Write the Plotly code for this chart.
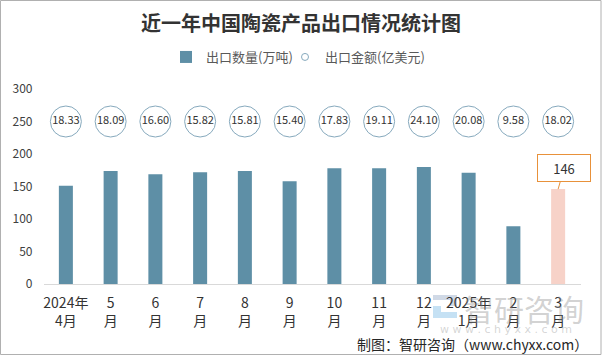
import plotly.graph_objects as go

# ---- data ----
months = ["2024年<br>4月", "5<br>月", "6<br>月", "7<br>月", "8<br>月", "9<br>月",
          "10<br>月", "11<br>月", "12<br>月", "2025年<br>1月", "2<br>月", "3<br>月"]
export_volume = [151, 174, 169, 172, 174, 158, 178, 178, 180, 171, 89, 146]   # 万吨
export_value = [18.33, 18.09, 16.60, 15.82, 15.81, 15.40, 17.83, 19.11, 24.10, 20.08, 9.58, 18.02]  # 亿美元

W, H = 602, 356
FONT = "Noto Sans CJK SC"
bar_colors = ["#5e8fa6"] * (len(months) - 1) + ["#f7d2c8"]
bubble_row = [250] * len(months)  # row of value bubbles drawn at y=250

fig = go.Figure()
fig.add_trace(go.Bar(
    x=months, y=export_volume, name="出口数量(万吨)", legend="legend",
    marker=dict(color=bar_colors, line=dict(width=0)),
))
fig.add_trace(go.Scatter(
    x=months, y=bubble_row, mode="markers+text", name="出口金额(亿美元)",
    text=[f"{v:.2f}" for v in export_value], textposition="middle center",
    textfont=dict(family=FONT, size=11, color="#333333"),
    marker=dict(symbol="circle", size=31, color="white",
                line=dict(color="#86a9bd", width=1)),
    showlegend=False, legendgroup="value",
))
# legend proxy for the bubble series (small hollow circle)
fig.add_trace(go.Scatter(
    x=[None], y=[None], mode="markers", name="出口金额(亿美元)", legendgroup="value",
    legend="legend2",
    marker=dict(symbol="circle", size=7, color="white", line=dict(color="#86a9bd", width=1)),
))

# callout for last bar
fig.add_annotation(
    x=months[-1], y=export_volume[-1], xref="x", yref="y",
    text=str(export_volume[-1]), showarrow=True, arrowhead=0, arrowwidth=1,
    arrowcolor="#e8913a", ax=6, ay=-21,
    bordercolor="#e8913a", borderwidth=1, borderpad=1, bgcolor="white",
    width=50, height=24, font=dict(family=FONT, size=13, color="#333333"),
)

# watermark
fig.add_annotation(x=524 / W, y=1 - 308 / H, xref="paper", yref="paper",
                   xanchor="center", yanchor="middle",
                   text="智研咨询", showarrow=False,
                   font=dict(family=FONT, size=30, color="rgba(140,140,140,0.40)"))
fig.add_annotation(x=506 / W, y=1 - 329 / H, xref="paper", yref="paper",
                   xanchor="center", yanchor="middle",
                   text="w w w . c h y x x . c o m", showarrow=False,
                   font=dict(family="DejaVu Sans", size=11, color="rgba(150,150,150,0.40)"))
logo_blocks = [  # (x0, y0, x1, y1, colour) in pixels
    (433, 295, 457, 300, "rgba(170,185,210,0.55)"),
    (450, 300, 457, 306, "rgba(170,185,210,0.55)"),
    (433, 306, 441, 312, "rgba(150,200,235,0.55)"),
    (433, 312, 457, 318, "rgba(150,200,235,0.55)"),
]
for x0, y0, x1, y1, c in logo_blocks:
    fig.add_shape(type="rect", xref="paper", yref="paper", x0=x0 / W, x1=x1 / W,
                  y0=1 - y1 / H, y1=1 - y0 / H, line=dict(width=0), fillcolor=c, layer="below")

# source footer
fig.add_annotation(x=590 / W, y=1 - 344 / H, xref="paper", yref="paper",
                   xanchor="right", yanchor="middle",
                   text="制图：智研咨询（www.chyxx.com）", showarrow=False,
                   font=dict(family=FONT, size=14, color="#262626"))

# outer frame
fig.add_shape(type="rect", xref="paper", yref="paper", x0=0.5 / W, x1=1 - 1 / W,
              y0=1 - 354.5 / H, y1=1 - 0.5 / H, line=dict(color="#b0b0b0", width=1))

legend_style = dict(orientation="h", xanchor="left", y=1 - 57 / H, yanchor="middle",
                    font=dict(family=FONT, size=13, color="#595959"), itemsizing="trace",
                    bgcolor="rgba(0,0,0,0)", itemwidth=30)

fig.update_layout(
    width=W, height=H, margin=dict(l=0, r=0, t=0, b=0, autoexpand=False),
    paper_bgcolor="white", plot_bgcolor="white",
    bargap=0.687,
    title=dict(text="<b>近一年中国陶瓷产品出口情况统计图</b>", x=0.5, xanchor="center",
               y=1 - 24 / H, yanchor="middle", yref="container",
               font=dict(family=FONT, size=20, color="#333333")),
    legend=dict(x=166 / W, **legend_style),
    legend2=dict(x=285 / W, **legend_style),
    font=dict(family=FONT, color="#404040"),
    showlegend=True,
    xaxis=dict(domain=[43.5 / W, 580.5 / W], type="category", range=[-0.5, len(months) - 0.5],
               showgrid=False, showline=True, linecolor="#d9d9d9", linewidth=1, ticks="",
               tickfont=dict(family=FONT, size=14, color="#333333"), zeroline=False,
               automargin=False, ticklabelstandoff=6),
    yaxis=dict(domain=[1 - 284 / H, 1 - 89 / H], range=[0, 300], dtick=50,
               showgrid=False, showline=False, zeroline=False, ticks="",
               tickfont=dict(family=FONT, size=12, color="#404040"),
               ticklabelstandoff=10, automargin=False),
)

fig.write_html("out.html", config={"displayModeBar": False},
               post_script="document.body.style.margin='0px';")
